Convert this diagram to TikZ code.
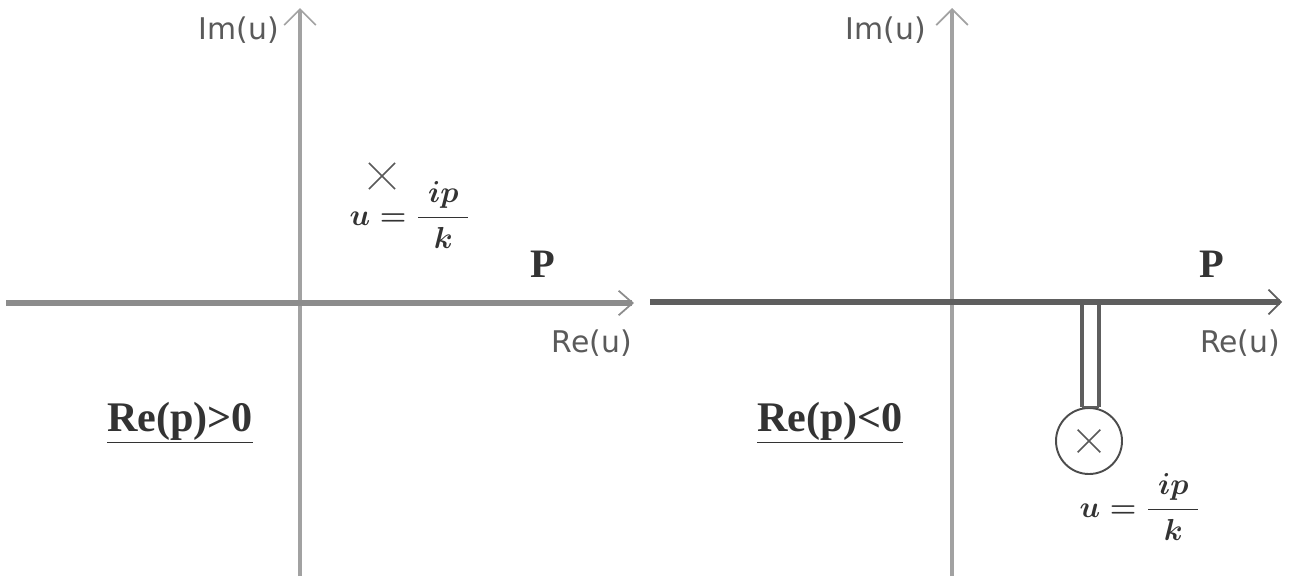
\documentclass[tikz,border=0pt]{standalone}
\usepackage{fontspec}
\setsansfont{DejaVu Sans}
\newfontfamily\lserif{Liberation Serif}
\usetikzlibrary{arrows.meta,shapes.misc}
\definecolor{axisgray}{HTML}{A2A2A2}
\definecolor{hgray}{HTML}{8C8C8C}
\definecolor{darkgray2}{HTML}{5E5E5E}
\definecolor{txtgray}{HTML}{5A5A5A}
\tikzset{
  vaxis/.style={draw=axisgray, line width=2pt, -{Straight Barb[length=9pt,width=18pt,line width=1pt]}},
  haxisL/.style={draw=hgray, line width=3.8pt, -{Straight Barb[length=8pt,width=14pt,line width=1pt]}},
  haxisR/.style={draw=darkgray2, line width=3.2pt, -{Straight Barb[length=7pt,width=14pt,line width=1pt]}},
  axlabel/.style={font=\sffamily\fontsize{17}{19}\selectfont, text=txtgray, inner sep=0pt, anchor=base},
  plabel/.style={font=\lserif\bfseries\fontsize{23}{26}\selectfont, text=black!80, inner sep=0pt, anchor=base},
  region/.style={font=\lserif\bfseries\fontsize{24}{28}\selectfont, text=black!80, inner sep=0pt, anchor=base},
  mathlbl/.style={font=\fontsize{19}{22}\selectfont\boldmath, text=black!80, inner sep=0pt},
  crossmark/.style={cross out, draw=black!65, line width=0.9pt, minimum size=14pt, inner sep=0pt},
  cutline/.style={draw=darkgray2, line width=2.4pt},
  polecircle/.style={draw=black!70, line width=1.1pt},
}
\begin{document}
\begin{tikzpicture}[x=0.02cm,y=-0.02cm]
\useasboundingbox (0,0) rectangle (1295,576);
% left panel
\coordinate (LvB) at (300,576);
\coordinate (LvT) at (300,8);
\coordinate (LhL) at (6,303);
\coordinate (LhR) at (634,303);
\draw[vaxis] (LvB) -- (LvT);
\draw[haxisL] (LhL) -- (LhR);
\node[axlabel] (LIm) at (239,39) {Im(u)};
\node[axlabel] (LRe) at (592,352) {Re(u)};
\node[plabel] (LP) at (543,277) {P};
\node[crossmark] (Lx) at (382,176) {};
\node[mathlbl] (Lu) at (410,215) {$\displaystyle u=\frac{\;ip\;}{k}$};
\node[region] (Lreg) at (180,431) {\underline{Re(p)>0}};
% right panel
\coordinate (RvB) at (952,576);
\coordinate (RvT) at (952,8);
\coordinate (RhL) at (650,302);
\coordinate (RhR) at (1282,302);
\draw[vaxis] (RvB) -- (RvT);
\draw[haxisR] (RhL) -- (RhR);
\node[axlabel] (RIm) at (886,39) {Im(u)};
\node[axlabel] (RRe) at (1240,352) {Re(u)};
\node[plabel] (RP) at (1212,277) {P};
\node[region] (Rreg) at (830,431) {\underline{Re(p)<0}};
% cut and pole
\node[circle, polecircle, minimum size=66*0.02cm, inner sep=0pt] (pole) at (1089,441) {};
\node[crossmark, minimum size=12pt] (Rx) at (pole.center) {};
\coordinate (c1t) at (1082,302);
\coordinate (c2t) at (1099,302);
\draw[cutline] (c1t) -- (c1t |- pole.north);
\draw[cutline] (c2t) -- (c2t |- pole.north);
\draw[cutline, line width=1.6pt] (c1t |- pole.north) -- (c2t |- pole.north);
\node[mathlbl] (Ru) at (1140,507) {$\displaystyle u=\frac{\;ip\;}{k}$};
\end{tikzpicture}
\end{document}
